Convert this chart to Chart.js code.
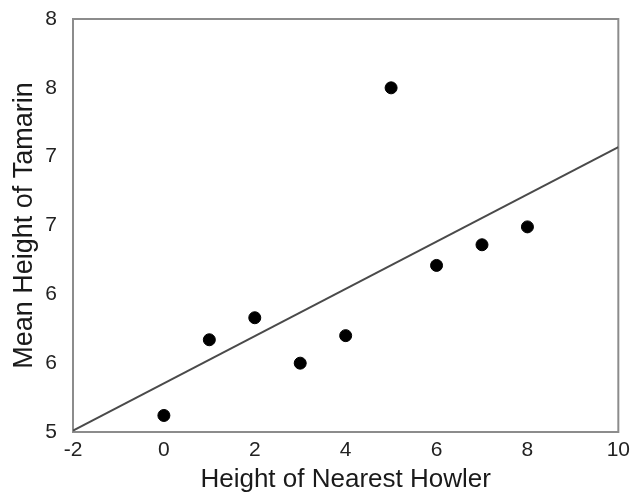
<!DOCTYPE html>
<html>
<head>
<meta charset="utf-8">
<script src="https://cdn.jsdelivr.net/npm/chart.js@4/dist/chart.umd.min.js"></script>
<style>
  html, body { margin: 0; padding: 0; background: #fff; }
  canvas { display: block; }
</style>
</head>
<body>
<canvas id="scatter" width="630" height="495"></canvas>
<script>
// howler height vs. mean tamarin height
const howlerHeight = [0, 1, 2, 3, 4, 5, 6, 7, 8];
const tamarinHeight = [5.12, 5.67, 5.83, 5.5, 5.7, 7.5, 6.21, 6.36, 6.49];

// fitted trend line, read at the two ends of the x range
const trendX = [-2, 10];
const trendY = [5.01, 7.07];

const xTicks = [-2, 0, 2, 4, 6, 8, 10];
const yTicks = [5, 5.5, 6, 6.5, 7, 7.5, 8];

const points = howlerHeight.map((x, i) => ({ x: x, y: tamarinHeight[i] }));
const trend = trendX.map((x, i) => ({ x: x, y: trendY[i] }));

// grey box round the plot area
const frame = {
    id: 'frame',
    beforeDatasetsDraw(chart) {
        const a = chart.chartArea;
        const c = chart.ctx;
        c.save();
        c.strokeStyle = '#8c8c8c';
        c.lineWidth = 2;
        c.strokeRect(a.left, a.top, a.right - a.left, a.bottom - a.top);
        c.restore();
    }
};

const tickFont = { family: 'Liberation Sans', size: 21 };

const ctx = document.getElementById('scatter');
const chart = new Chart(ctx, {
    type: 'scatter',
    data: {
        datasets: [{
            label: 'Tamarin',
            data: points,
            backgroundColor: '#000',
            borderColor: '#000',
            pointRadius: 6,
            pointHoverRadius: 6
        }, {
            label: 'Trend',
            type: 'line',
            data: trend,
            borderColor: '#4a4a4a',
            borderWidth: 2,
            pointRadius: 0,
            fill: false
        }]
    },
    options: {
        responsive: false,
        animation: false,
        layout: {
            padding: { top: 19, right: 0, left: 8, bottom: 0 }
        },
        plugins: {
            legend: { display: false },
            tooltip: { enabled: false }
        },
        scales: {
            x: {
                type: 'linear',
                min: -2,
                max: 10,
                afterBuildTicks: (s) => { s.ticks = xTicks.map(v => ({ value: v })); },
                afterFit: (s) => { s.height = 63; },
                grid: { display: false, drawTicks: true, tickLength: 6 },
                border: { display: false },
                ticks: {
                    padding: 0,
                    color: '#222',
                    font: tickFont
                },
                title: {
                    display: true,
                    text: 'Height of Nearest Howler',
                    color: '#1a1a1a',
                    padding: 0,
                    font: { family: 'Liberation Sans', size: 26 }
                }
            },
            y: {
                type: 'linear',
                min: 5,
                max: 8,
                afterBuildTicks: (s) => { s.ticks = yTicks.map(v => ({ value: v })); },
                afterFit: (s) => { s.width = 65; },
                grid: { display: false, drawTicks: true, tickLength: 16 },
                border: { display: false },
                ticks: {
                    padding: 0,
                    color: '#222',
                    font: tickFont,
                    callback: (v) => Math.round(v)
                },
                title: {
                    display: true,
                    text: 'Mean Height of Tamarin',
                    color: '#1a1a1a',
                    padding: 0,
                    font: { family: 'Liberation Sans', size: 27 }
                }
            }
        }
    },
    plugins: [frame]
});
</script>
</body>
</html>
